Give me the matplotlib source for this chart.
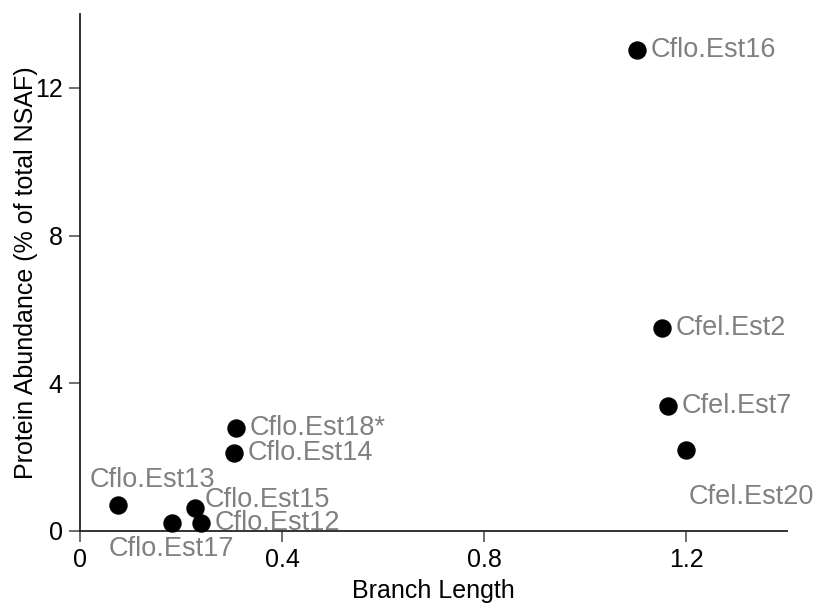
import matplotlib
matplotlib.use('Agg')
import matplotlib.pyplot as plt

plt.rcParams['font.family'] = ['Liberation Sans', 'DejaVu Sans']

# values
names = ['Cflo.Est16', 'Cfel.Est2', 'Cfel.Est7', 'Cfel.Est20', 'Cflo.Est18*',
         'Cflo.Est14', 'Cflo.Est13', 'Cflo.Est15', 'Cflo.Est17', 'Cflo.Est12']
branch_len = [1.103, 1.152, 1.164, 1.200, 0.309, 0.305, 0.075, 0.228, 0.182, 0.239]
abundance = [13.03, 5.49, 3.38, 2.19, 2.78, 2.11, 0.70, 0.62, 0.22, 0.22]
# label offsets in pixels (dx, dy)
offsets = {
    'Cflo.Est13': (-28, 25),
    'Cflo.Est17': (-63, -26),
    'Cfel.Est20': (3, -47),
    'Cflo.Est15': (9, 8),
    'Cflo.Est12': (14, 0),
}

xticks = [0, 0.4, 0.8, 1.2]
yticks = [0, 4, 8, 12]

fig = plt.figure(figsize=(8.19, 6.08), dpi=100)
ax = fig.add_axes([80 / 819, (608 - 531) / 608, (787 - 80) / 819, (531 - 14) / 608])

ax.scatter(branch_len, abundance, s=150, color='black', zorder=3, clip_on=False)

for n, x, y in zip(names, branch_len, abundance):
    dx, dy = offsets.get(n, (14, 0))
    ax.annotate(n, (x, y), xytext=(dx, dy), textcoords='offset pixels',
                ha='left', va='center', fontsize=19.5, color='#808080')

ax.set_xlim(0, 1.4)
ax.set_ylim(0, 14)
ax.set_xticks(xticks)
ax.set_xticklabels(['0', '0.4', '0.8', '1.2'])
ax.set_yticks(yticks)
ax.tick_params(labelsize=18, length=8, width=1.2, color='#555555', pad=4.5)
for s in ['top', 'right']:
    ax.spines[s].set_visible(False)
for s in ['left', 'bottom']:
    ax.spines[s].set_linewidth(1.3)
    ax.spines[s].set_color('#222222')

ax.set_xlabel('Branch Length', fontsize=18, labelpad=5)
ax.set_ylabel('Protein Abundance (% of total NSAF)', fontsize=18)
ax.yaxis.set_label_coords(-0.059, 0.5)

fig.savefig('out.png', dpi=100)
